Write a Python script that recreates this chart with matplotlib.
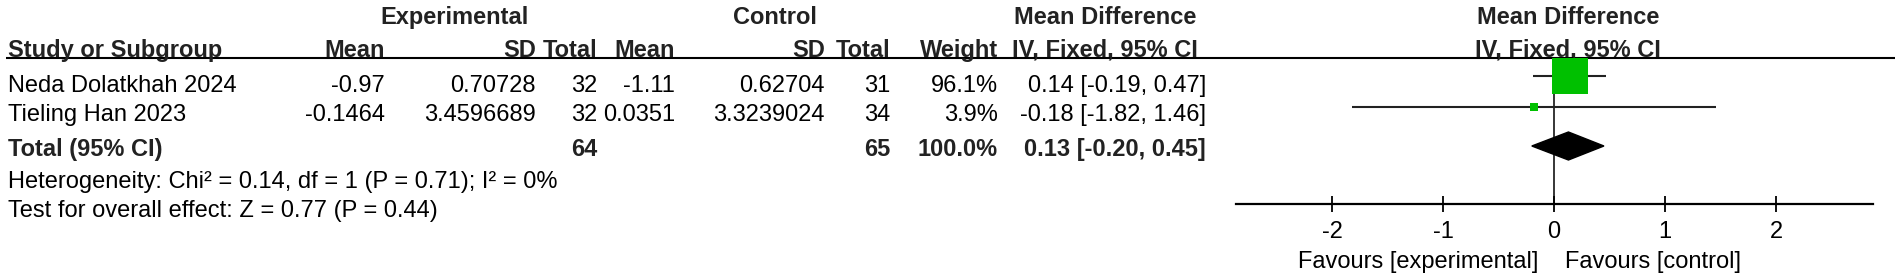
import matplotlib
matplotlib.use("Agg")
import matplotlib.pyplot as plt
from matplotlib.patches import Rectangle, Polygon

plt.rcParams['font.family'] = ['Liberation Sans', 'DejaVu Sans']

# data
studies = ['Neda Dolatkhah 2024', 'Tieling Han 2023']
exp_mean = ['-0.97', '-0.1464']
exp_sd = ['0.70728', '3.4596689']
exp_n = [32, 32]
ctl_mean = ['-1.11', '0.0351']
ctl_sd = ['0.62704', '3.3239024']
ctl_n = [31, 34]
weights = [96.1, 3.9]
md = [0.14, -0.18]
ci_lo = [-0.19, -1.82]
ci_hi = [0.47, 1.46]

total_md = 0.13
total_lo = -0.20
total_hi = 0.45
heterogeneity = 'Heterogeneity: Chi² = 0.14, df = 1 (P = 0.71); I² = 0%'
overall = 'Test for overall effect: Z = 0.77 (P = 0.44)'
ticks = [-2, -1, 0, 1, 2]

W, H = 1902, 279
FS = 17
BOLD_C = '#222222'

fig = plt.figure(figsize=(W / 100, H / 100), dpi=100)
tx = fig.add_axes([0, 0, 1, 1])
tx.set_xlim(0, W)
tx.set_ylim(H, 0)
tx.axis('off')


def put(x, y, s, ha='right', bold=False):
    tx.text(x, y, s, ha=ha, va='baseline', fontsize=FS,
            fontweight='bold' if bold else 'normal',
            color=BOLD_C if bold else 'black')


# column anchors (pixels)
x_name = 8
x_emean, x_esd, x_en = 385, 536, 597
x_cmean, x_csd, x_cn = 675, 825, 890
x_w, x_ci = 998, 1206
x_ci_mid = 1105

# header
y_h1, y_h2 = 24, 57
put(455, y_h1, 'Experimental', ha='center', bold=True)
put(775, y_h1, 'Control', ha='center', bold=True)
put(x_ci_mid, y_h1, 'Mean Difference', ha='center', bold=True)
put(1568, y_h1, 'Mean Difference', ha='center', bold=True)
put(x_name, y_h2, 'Study or Subgroup', ha='left', bold=True)
for x, s in [(x_emean, 'Mean'), (x_esd, 'SD'), (x_en, 'Total'),
             (x_cmean, 'Mean'), (x_csd, 'SD'), (x_cn, 'Total'),
             (x_w, 'Weight')]:
    put(x, y_h2, s, bold=True)
put(x_ci_mid, y_h2, 'IV, Fixed, 95% CI', ha='center', bold=True)
put(1568, y_h2, 'IV, Fixed, 95% CI', ha='center', bold=True)
tx.plot([6, 1895], [58, 58], color='black', lw=1.5, solid_capstyle='butt')

# study rows
row_base = [92, 121]
for i, y in enumerate(row_base):
    put(x_name, y, studies[i], ha='left')
    put(x_emean, y, exp_mean[i])
    put(x_esd, y, exp_sd[i])
    put(x_en, y, str(exp_n[i]))
    put(x_cmean, y, ctl_mean[i])
    put(x_csd, y, ctl_sd[i])
    put(x_cn, y, str(ctl_n[i]))
    put(x_w, y, f'{weights[i]:.1f}%')
    put(x_ci, y, f'{md[i]:.2f} [{ci_lo[i]:.2f}, {ci_hi[i]:.2f}]')

# total rows
y_tot = 156
put(x_name, y_tot, 'Total (95% CI)', ha='left', bold=True)
put(x_en, y_tot, str(sum(exp_n)), bold=True)
put(x_cn, y_tot, str(sum(ctl_n)), bold=True)
put(x_w, y_tot, f'{sum(weights):.1f}%', bold=True)
put(x_ci, y_tot, f'{total_md:.2f} [{total_lo:.2f}, {total_hi:.2f}]', bold=True)
put(x_name, 188, heterogeneity, ha='left')
put(x_name, 217, overall, ha='left')

# forest panel, y in pixel units, x in mean-difference units
zero_px, unit_px = 1554, 111
left_px, right_px = 1236, 1873
top_px, axis_px = 58, 204
fx = fig.add_axes([left_px / W, (H - axis_px) / H,
                   (right_px - left_px) / W, (axis_px - top_px) / H])
fx.set_xlim((left_px - zero_px) / unit_px, (right_px - zero_px) / unit_px)
fx.set_ylim(axis_px, top_px)
fx.patch.set_alpha(0)
for s in ['top', 'left', 'right']:
    fx.spines[s].set_visible(False)
fx.spines['bottom'].set_linewidth(1.6)
fx.set_yticks([])
fx.set_xticks(ticks)
fx.set_xticklabels([str(t) for t in ticks], fontsize=FS)
fx.tick_params(axis='x', direction='inout', length=11.5, width=1.3, pad=6.5)
fx.axvline(0, color='black', lw=1.1)

row_y = [76, 107]
max_side = 36
for i, y in enumerate(row_y):
    fx.plot([ci_lo[i], ci_hi[i]], [y, y], color='#222222', lw=1.5,
            solid_capstyle='butt', zorder=2)
    side = max(max_side * (weights[i] / max(weights)) ** 0.5, 5)
    wdt = side / unit_px
    fx.add_patch(Rectangle((md[i] - wdt / 2, y - side / 2), wdt, side,
                           facecolor='#00c000', edgecolor='none', zorder=3))

y_dia, half_h = 146, 14
fx.add_patch(Polygon([(total_lo, y_dia), (total_md, y_dia - half_h),
                      (total_hi, y_dia), (total_md, y_dia + half_h)],
                     closed=True, facecolor='black', edgecolor='black', zorder=3))

tx.text(1538, 268, 'Favours [experimental]', ha='right', va='baseline', fontsize=FS)
tx.text(1565, 268, 'Favours [control]', ha='left', va='baseline', fontsize=FS)

fig.savefig('out.png', dpi=100)
